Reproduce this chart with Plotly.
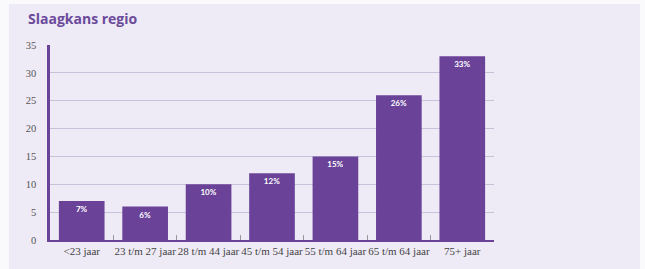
import plotly.graph_objects as go

categories = ["<23 jaar", "23 t/m 27 jaar", "28 t/m 44 jaar", "45 t/m 54 jaar",
              "55 t/m 64 jaar", "65 t/m 64 jaar", "75+ jaar"]
values = [7, 6, 10, 12, 15, 26, 33]
labels = ["7%", "6%", "10%", "12%", "15%", "26%", "33%"]
yticks = [0, 5, 10, 15, 20, 25, 30, 35]

purple = "#6A4399"
bg = "#EEEAF6"

fig = go.Figure(go.Bar(
    x=categories, y=values, text=labels,
    textposition="inside", insidetextanchor="end",
    textfont=dict(color="white", size=8, family="Lato", weight="bold"),
    marker=dict(color=purple, line=dict(width=0)),
    cliponaxis=False,
))

fig.update_layout(
    width=645, height=269,
    margin=dict(l=50, r=151, t=45, b=29, autoexpand=False),
    paper_bgcolor="#FAF9FC", plot_bgcolor=bg,
    bargap=0.28,
    showlegend=False,
    title=dict(text="<b>Slaagkans regio</b>", x=28/645, xanchor="left",
               y=1-19/269, yanchor="middle",
               font=dict(family="Open Sans", size=14, color="#6B4A9B")),
    font=dict(family="Lato", size=10, color="#555"),
    shapes=[dict(type="rect", xref="paper", yref="paper",
                 x0=-41/444, x1=1+146/444, y0=-29/195, y1=1+41/195,
                 fillcolor=bg, line=dict(width=0), layer="below")],
)
fig.update_xaxes(
    showline=True, linecolor=purple, linewidth=2,
    ticks="inside", tickson="boundaries", ticklen=5, tickcolor="#999",
    tickangle=0, automargin=False,
    tickfont=dict(size=11, color="#444", family="Liberation Sans Narrow"),
    showgrid=False,
)
fig.update_yaxes(
    range=[0, 35], tickvals=yticks,
    showline=True, linecolor=purple, linewidth=2.5,
    gridcolor="#C9C2D9", gridwidth=1,
    ticks="", ticklabelstandoff=9,
    tickfont=dict(size=10.5, color="#555", family="Liberation Sans Narrow"),
    zeroline=False,
)

fig.write_html("out.html", config={"displayModeBar": False},
               post_script="document.body.style.margin='0';")
